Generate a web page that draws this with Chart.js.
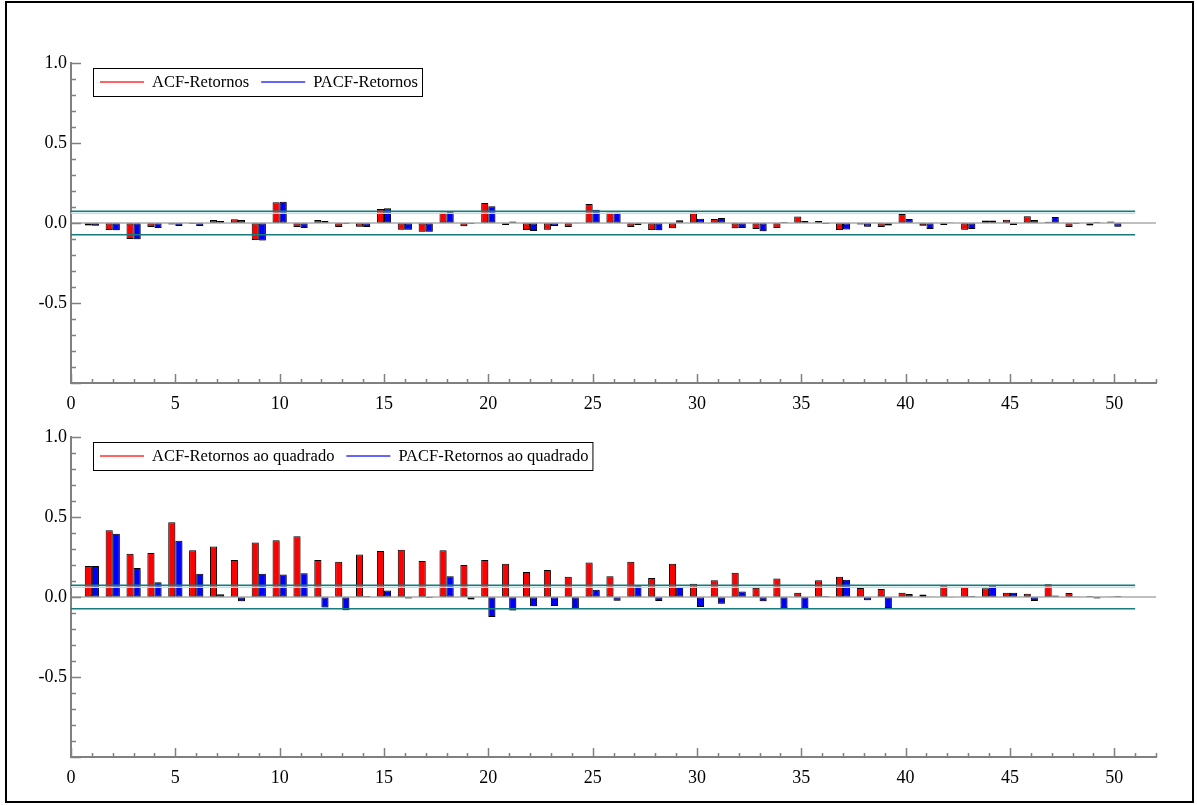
<!DOCTYPE html>
<html>
<head>
<meta charset="utf-8">
<script src="https://cdn.jsdelivr.net/npm/chart.js@4.4.1/dist/chart.umd.min.js"></script>
<style>
  html, body { margin: 0; padding: 0; background: #fff; }
  #page { position: relative; width: 1197px; height: 805px; overflow: hidden; background: #fff; }
  #frame { position: absolute; left: 5px; top: 1px; width: 1189px; height: 802px; border: 2px solid #000; box-sizing: border-box; }
  canvas { position: absolute; left: 0; }
</style>
</head>
<body>
<div id="page">
  <div id="frame"></div>
  <canvas id="retornos" width="1197" height="400" style="top:30px"></canvas>
  <canvas id="quadrado" width="1197" height="400" style="top:404px"></canvas>
</div>
<script>
// Lags 1..50
const lags = [1,2,3,4,5,6,7,8,9,10,11,12,13,14,15,16,17,18,19,20,
              21,22,23,24,25,26,27,28,29,30,31,32,33,34,35,36,37,38,39,40,
              41,42,43,44,45,46,47,48,49,50];

// Returns
const acfRetornos = [-0.015,-0.044,-0.100,-0.025,-0.010,-0.006,0.019,0.023,-0.106,0.129,
                     -0.025,0.019,-0.025,-0.023,0.088,-0.042,-0.054,0.065,-0.021,0.125,
                     -0.013,-0.044,-0.042,-0.025,0.119,0.065,-0.025,-0.044,-0.033,0.065,
                     0.025,-0.033,-0.038,-0.031,0.040,0.013,-0.044,-0.010,-0.025,0.056,
                     -0.017,-0.013,-0.042,0.015,0.021,0.042,0.008,-0.025,-0.015,0.010];
const pacfRetornos = [-0.017,-0.045,-0.102,-0.031,-0.019,-0.019,0.013,0.019,-0.110,0.133,
                      -0.031,0.013,-0.006,-0.025,0.092,-0.042,-0.054,0.069,-0.006,0.104,
                      0.010,-0.050,-0.019,-0.002,0.083,0.065,-0.013,-0.046,0.017,0.027,
                      0.031,-0.031,-0.052,0.006,0.013,-0.006,-0.040,-0.023,-0.015,0.025,
                      -0.038,0.004,-0.038,0.015,-0.013,0.019,0.038,-0.006,0.006,-0.023];

// Squared returns
const acfQuadrado = [0.194,0.417,0.271,0.275,0.467,0.292,0.315,0.231,0.340,0.354,
                     0.379,0.231,0.221,0.265,0.288,0.296,0.225,0.292,0.200,0.231,
                     0.208,0.156,0.169,0.127,0.215,0.129,0.221,0.119,0.208,0.083,
                     0.104,0.152,0.058,0.115,0.027,0.104,0.127,0.056,0.050,0.027,
                     0.015,0.071,0.063,0.054,0.027,0.021,0.079,0.025,0.006,0.002];
const pacfQuadrado = [0.194,0.396,0.181,0.092,0.352,0.146,0.017,-0.027,0.146,0.140,
                      0.148,-0.065,-0.083,0.006,0.040,-0.010,-0.006,0.129,-0.015,-0.125,
                      -0.085,-0.058,-0.056,-0.071,0.046,-0.023,0.071,-0.025,0.063,-0.063,
                      -0.042,0.035,-0.027,-0.071,-0.071,0.006,0.108,-0.021,-0.069,0.019,
                      0.004,-0.004,0.006,0.071,0.027,-0.025,0.010,0.002,-0.010,0.006];

// Axis ticks and confidence band
const xTicks = [0,5,10,15,20,25,30,35,40,45,50];
const yTicks = [1.0,0.5,0.0,-0.5];
const confBound = 0.074;
const bandEnd = 51;

const FONT = "'Liberation Serif', 'Times New Roman', serif";
const AXIS_GREY = '#808080';

// Tick marks drawn inward from the axes (major every 5 / 0.5, minor every 1 / 0.1)
const innerTicks = {
  id: 'innerTicks',
  afterDraw(chart) {
    const ctx = chart.ctx, x = chart.scales.x, y = chart.scales.y, a = chart.chartArea;
    ctx.save();
    ctx.strokeStyle = AXIS_GREY;
    ctx.lineWidth = 1.5;
    ctx.beginPath();
    for (let i = -10; i <= 10; i++) {
      const py = Math.round(y.getPixelForValue(i / 10)) + 0.5;
      const len = (i % 5 === 0) ? 10 : 5;
      ctx.moveTo(a.left, py); ctx.lineTo(a.left + len, py);
    }
    for (let i = 0; i <= x.max; i++) {
      const px = Math.round(x.getPixelForValue(i)) + 0.5;
      const len = (i % 5 === 0) ? 9 : 4;
      ctx.moveTo(px, a.bottom); ctx.lineTo(px, a.bottom - len);
    }
    ctx.stroke();
    ctx.restore();
  }
};

// Drop shadow for bars / halo under the upper confidence line
const shading = {
  id: 'shading',
  beforeDatasetDraw(chart, args) {
    const ds = chart.data.datasets[args.index];
    if (!ds.shade) return;
    const ctx = chart.ctx;
    ctx.save();
    ctx.shadowColor = ds.shade.color;
    ctx.shadowBlur = ds.shade.blur;
    ctx.shadowOffsetX = ds.shade.dx;
    ctx.shadowOffsetY = ds.shade.dy;
  },
  afterDatasetDraw(chart, args) {
    const ds = chart.data.datasets[args.index];
    if (ds.shade) chart.ctx.restore();
  }
};

// Framed legend inside the plot area
const boxLegend = {
  id: 'boxLegend',
  afterDraw(chart) {
    const ctx = chart.ctx, a = chart.chartArea;
    const items = chart.data.datasets.filter(d => d.label);
    ctx.save();
    ctx.font = '16.5px ' + FONT;
    const left = a.left + 22, top = a.top + 5, h = 28;
    let w = 7;
    items.forEach((it, i) => { w += 44 + 8 + ctx.measureText(it.label).width + (i < items.length - 1 ? 12 : 4); });
    ctx.fillStyle = '#fff';
    ctx.fillRect(left, top, w, h);
    ctx.strokeStyle = '#000';
    ctx.lineWidth = 1;
    ctx.strokeRect(left + 0.5, top + 0.5, w, h);
    let cx = left + 7;
    const cy = top + h / 2;
    items.forEach(it => {
      ctx.strokeStyle = it.legendColor;
      ctx.lineWidth = 1.5;
      ctx.beginPath(); ctx.moveTo(cx, cy); ctx.lineTo(cx + 44, cy); ctx.stroke();
      cx += 52;
      ctx.fillStyle = '#000';
      ctx.textBaseline = 'middle';
      ctx.fillText(it.label, cx, cy + 1);
      cx += ctx.measureText(it.label).width + 12;
    });
    ctx.restore();
  }
};

function makePanel(id, acf, pacf, acfName, pacfName) {
  const barStyle = {
    borderColor: '#000', borderWidth: 1, borderSkipped: false,
    categoryPercentage: 0.68, barPercentage: 1.0, order: 5,
    shade: { color: 'rgba(0,0,0,0.35)', blur: 2, dx: 1, dy: 1 }
  };
  return new Chart(document.getElementById(id), {
    type: 'bar',
    data: {
      labels: lags,
      datasets: [
        Object.assign({ label: acfName, data: acf, backgroundColor: '#ff0000', legendColor: '#ff3030' }, barStyle),
        Object.assign({ label: pacfName, data: pacf, backgroundColor: '#0000ff', legendColor: '#3030ff' }, barStyle),
        { type: 'line', data: [{x: 0, y: 0}, {x: 52, y: 0}], borderColor: AXIS_GREY, borderWidth: 1,
          pointRadius: 0, order: 10 },
        { type: 'line', data: [{x: 0, y: confBound}, {x: bandEnd, y: confBound}], borderColor: '#177a7e', borderWidth: 1.5,
          pointRadius: 0, order: 1, shade: { color: '#b5e3e6', blur: 0, dx: 0, dy: 2 } },
        { type: 'line', data: [{x: 0, y: -confBound}, {x: bandEnd, y: -confBound}], borderColor: '#177a7e', borderWidth: 1.5,
          pointRadius: 0, order: 1 }
      ]
    },
    options: {
      responsive: false,
      animation: false,
      devicePixelRatio: 1,
      events: [],
      layout: { padding: { top: 33, right: 41, left: 0, bottom: 0 } },
      plugins: { legend: { display: false }, tooltip: { enabled: false } },
      scales: {
        x: {
          type: 'linear', min: 0, max: 52, offset: false,
          grid: { display: true, drawOnChartArea: false, drawTicks: false },
          border: { display: true, color: AXIS_GREY, width: 2 },
          afterBuildTicks: s => { s.ticks = xTicks.map(v => ({ value: v })); },
          afterFit: s => { s.height = 47; },
          ticks: { padding: 10, color: '#000', font: { family: FONT, size: 18 }, callback: v => String(v), maxRotation: 0 }
        },
        y: {
          min: -1, max: 1,
          grid: { display: true, drawOnChartArea: false, drawTicks: false },
          border: { display: true, color: AXIS_GREY, width: 2 },
          afterBuildTicks: s => { s.ticks = yTicks.map(v => ({ value: v })); },
          afterFit: s => { s.width = 71; },
          ticks: { padding: 4, color: '#000', font: { family: FONT, size: 18 }, callback: v => Number(v).toFixed(1) }
        }
      }
    },
    plugins: [shading, innerTicks, boxLegend]
  });
}

makePanel('retornos', acfRetornos, pacfRetornos, 'ACF-Retornos', 'PACF-Retornos');
makePanel('quadrado', acfQuadrado, pacfQuadrado, 'ACF-Retornos ao quadrado', 'PACF-Retornos ao quadrado');
</script>
</body>
</html>
